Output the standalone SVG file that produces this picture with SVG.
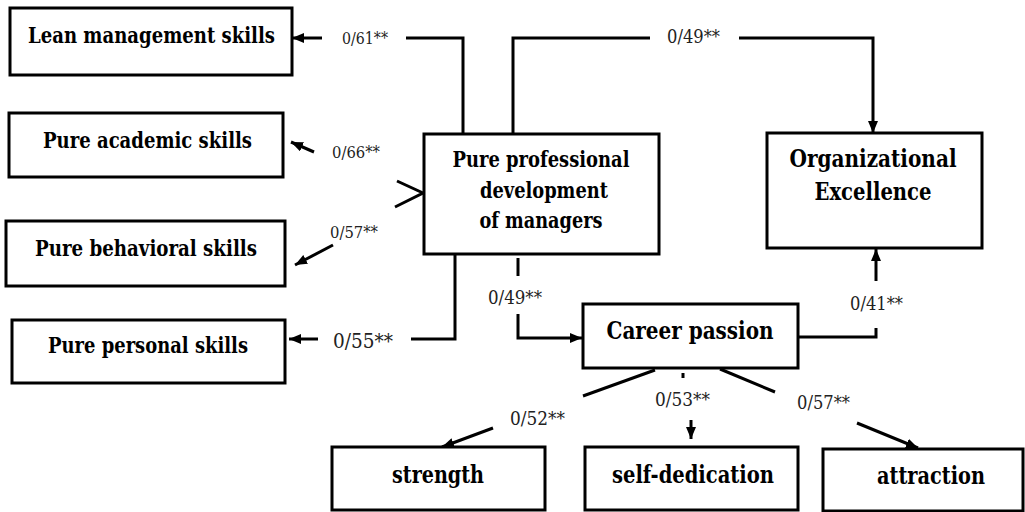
<svg xmlns="http://www.w3.org/2000/svg" width="1025" height="512" viewBox="0 0 1025 512">
<style>
.box{fill:#fff;stroke:#000;stroke-width:3}
.t{font-family:'DejaVu Serif','Liberation Serif',serif;font-weight:bold;fill:#000;text-anchor:middle}
.lb{font-family:'DejaVu Serif','Liberation Serif',serif;fill:#222}
.c{fill:none;stroke:#000;stroke-width:3}
</style>
<defs>
<marker id="ah" markerUnits="userSpaceOnUse" markerWidth="12" markerHeight="10" refX="12" refY="5" orient="auto">
<path d="M0,0 L12,5 L0,10 z" fill="#000"/>
</marker>
</defs>
<rect width="1025" height="512" fill="#fff"/>
<g id="connectors">
<polyline class="c" points="463,134 463,38 406,38"/>
<line class="c" x1="322" y1="38" x2="292" y2="38" marker-end="url(#ah)"/>
<polyline class="c" points="513,134 513,38 650,38"/>
<polyline class="c" points="739,38 873,38 873,133" marker-end="url(#ah)"/>
<line class="c" x1="314" y1="152" x2="291" y2="142" marker-end="url(#ah)"/>
<polyline class="c" points="397,181 423,193 395,207"/>
<line class="c" x1="333" y1="245" x2="295" y2="265" marker-end="url(#ah)"/>
<polyline class="c" points="455,254 455,339 411,339"/>
<line class="c" x1="318" y1="339" x2="289" y2="339" marker-end="url(#ah)"/>
<line class="c" x1="518" y1="258" x2="518" y2="276"/>
<polyline class="c" points="518,314 518,338 582,338" marker-end="url(#ah)"/>
<polyline class="c" points="798,337 876,337 876,328"/>
<line class="c" x1="876" y1="281" x2="876" y2="249" marker-end="url(#ah)"/>
<line class="c" x1="655" y1="370" x2="583" y2="396"/>
<line class="c" x1="493" y1="428" x2="442" y2="447" marker-end="url(#ah)"/>
<line class="c" x1="683" y1="373" x2="683" y2="378"/>
<line class="c" x1="691" y1="420" x2="691" y2="439" marker-end="url(#ah)"/>
<line class="c" x1="720" y1="369" x2="775" y2="392"/>
<line class="c" x1="857" y1="423" x2="918" y2="448" marker-end="url(#ah)"/>
<text class="lb" x="342" y="44" font-size="17" textLength="46" lengthAdjust="spacingAndGlyphs">0/61**</text>
<text class="lb" x="667" y="43" font-size="19" textLength="53" lengthAdjust="spacingAndGlyphs">0/49**</text>
<text class="lb" x="332" y="158" font-size="17" textLength="48" lengthAdjust="spacingAndGlyphs">0/66**</text>
<text class="lb" x="330" y="238" font-size="17" textLength="48" lengthAdjust="spacingAndGlyphs">0/57**</text>
<text class="lb" x="333" y="348" font-size="20" textLength="60" lengthAdjust="spacingAndGlyphs">0/55**</text>
<text class="lb" x="488" y="304" font-size="19" textLength="54" lengthAdjust="spacingAndGlyphs">0/49**</text>
<text class="lb" x="850" y="310" font-size="19" textLength="53" lengthAdjust="spacingAndGlyphs">0/41**</text>
<text class="lb" x="510" y="425" font-size="19" textLength="55" lengthAdjust="spacingAndGlyphs">0/52**</text>
<text class="lb" x="655" y="406" font-size="19" textLength="55" lengthAdjust="spacingAndGlyphs">0/53**</text>
<text class="lb" x="797" y="409" font-size="19" textLength="53" lengthAdjust="spacingAndGlyphs">0/57**</text>
</g>
<g id="lean">
<rect class="box" x="10" y="8" width="282" height="67"/>
<text class="t" x="151.5" y="43" font-size="22" textLength="247" lengthAdjust="spacingAndGlyphs">Lean management skills</text>
</g>
<g id="academic">
<rect class="box" x="9" y="113" width="274" height="64"/>
<text class="t" x="147.5" y="148" font-size="22" textLength="209" lengthAdjust="spacingAndGlyphs">Pure academic skills</text>
</g>
<g id="behavioral">
<rect class="box" x="6" y="221" width="279" height="65"/>
<text class="t" x="146" y="256" font-size="22" textLength="222" lengthAdjust="spacingAndGlyphs">Pure behavioral skills</text>
</g>
<g id="personal">
<rect class="box" x="12" y="320" width="273" height="63"/>
<text class="t" x="148" y="353" font-size="22" textLength="200" lengthAdjust="spacingAndGlyphs">Pure personal skills</text>
</g>
<g id="professional">
<rect class="box" x="424" y="134" width="235" height="120"/>
<text class="t" x="541" y="167" font-size="22" textLength="177" lengthAdjust="spacingAndGlyphs">Pure professional</text>
<text class="t" x="544" y="198" font-size="22" textLength="128" lengthAdjust="spacingAndGlyphs">development</text>
<text class="t" x="541" y="228" font-size="22" textLength="123" lengthAdjust="spacingAndGlyphs">of managers</text>
</g>
<g id="excellence">
<rect class="box" x="767" y="133" width="215" height="115"/>
<text class="t" x="873" y="167" font-size="25" textLength="167" lengthAdjust="spacingAndGlyphs">Organizational</text>
<text class="t" x="873" y="200" font-size="25" textLength="117" lengthAdjust="spacingAndGlyphs">Excellence</text>
</g>
<g id="career">
<rect class="box" x="583" y="304" width="215" height="64"/>
<text class="t" x="690" y="339" font-size="25" textLength="167" lengthAdjust="spacingAndGlyphs">Career passion</text>
</g>
<g id="strength">
<rect class="box" x="332" y="447" width="213" height="63"/>
<text class="t" x="438" y="483" font-size="25" textLength="92" lengthAdjust="spacingAndGlyphs">strength</text>
</g>
<g id="self-dedication">
<rect class="box" x="585" y="447" width="213" height="63"/>
<text class="t" x="693" y="483" font-size="25" textLength="162" lengthAdjust="spacingAndGlyphs">self-dedication</text>
</g>
<g id="attraction">
<rect class="box" x="823" y="449" width="200" height="62"/>
<text class="t" x="931" y="484" font-size="25" textLength="108" lengthAdjust="spacingAndGlyphs">attraction</text>
</g>
</svg>
